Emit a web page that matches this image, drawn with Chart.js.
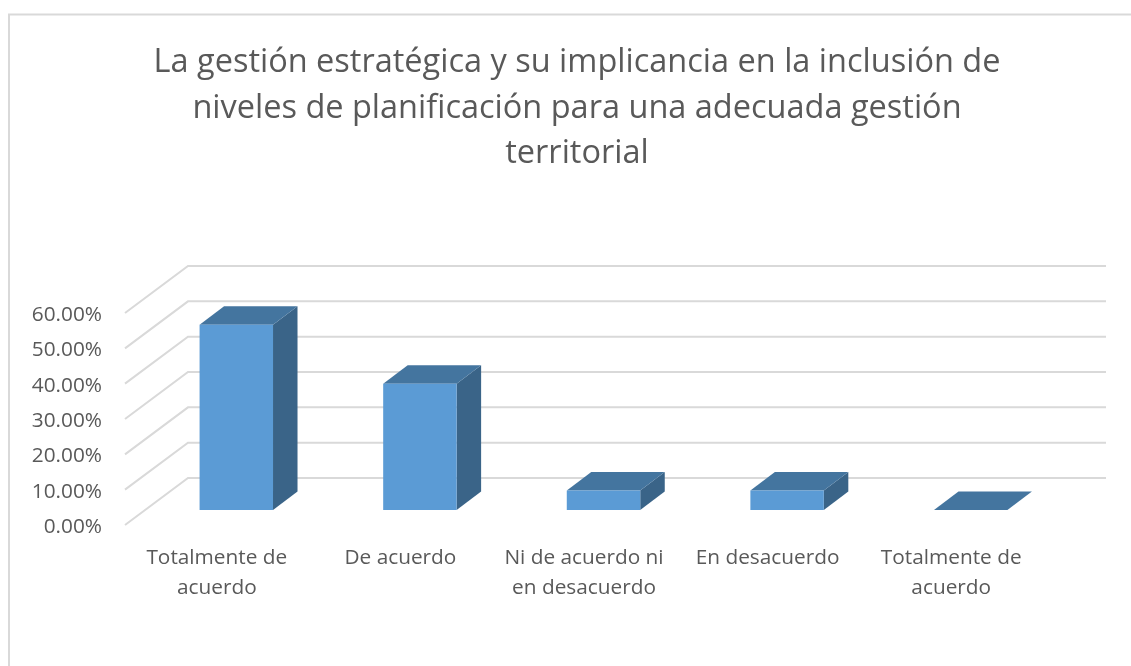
<!DOCTYPE html>
<html><head><meta charset="utf-8">
<style>html,body{margin:0;padding:0;background:#fff}#w{position:relative;width:1131px;height:666px}</style>
<script src="https://cdn.jsdelivr.net/npm/chart.js@4"></script>
</head><body><div id="w"><canvas id="c" width="1131" height="666"></canvas></div>
<script>
const titleLines = ["La gestión estratégica y su implicancia en la inclusión de","niveles de planificación para una adecuada gestión","territorial"];
const categories = [["Totalmente de","acuerdo"],"De acuerdo",["Ni de acuerdo ni","en desacuerdo"],"En desacuerdo",["Totalmente de","acuerdo"]];
const values = [0.524,0.357,0.055,0.055,0];
const FONT = '"Open Sans", sans-serif';
const GRID='#D9D9D9', FRONT='#5B9BD5', TOP='#44759F', SIDE='#3A6488', TEXT='#595959';
const FLOOR={dx:63,dy:-47}, BARPLANE={dx:19.5,dy:-15}, BARDEPTH={dx:24.5,dy:-18.5};
function poly(ctx,pts,fill){ctx.beginPath();pts.forEach((p,i)=>i?ctx.lineTo(p[0],p[1]):ctx.moveTo(p[0],p[1]));ctx.closePath();ctx.fillStyle=fill;ctx.fill();}
const frame3d={id:'frame3d',
 beforeDraw(ch){const c=ch.ctx;c.save();c.strokeStyle=GRID;c.lineWidth=2;c.beginPath();c.moveTo(9,666);c.lineTo(9,14.5);c.lineTo(1131,14.5);c.stroke();c.restore();},
 beforeDatasetsDraw(ch){
  const c=ch.ctx,y=ch.scales.y,a=ch.chartArea;
  c.save();c.strokeStyle=GRID;c.lineWidth=2;
  y.ticks.forEach(t=>{const py=y.getPixelForValue(t.value);c.beginPath();c.moveTo(a.left,py);c.lineTo(a.left+FLOOR.dx,py+FLOOR.dy);c.lineTo(a.right+FLOOR.dx,py+FLOOR.dy);c.stroke();});
  c.restore();
 },
 beforeDatasetDraw(ch,args){
  const c=ch.ctx;c.save();c.translate(BARPLANE.dx,BARPLANE.dy);
  args.meta.data.forEach(b=>{
   const p=b.getProps(['x','y','base','width'],true);
   const l=p.x-p.width/2,r=p.x+p.width/2,t=p.y,bo=p.base,dx=BARDEPTH.dx,dy=BARDEPTH.dy;
   if(bo-t>0.5) poly(c,[[r,t],[r+dx,t+dy],[r+dx,bo+dy],[r,bo]],SIDE);
   poly(c,[[l,t],[r,t],[r+dx,t+dy],[l+dx,t+dy]],TOP);
  });
 },
 afterDatasetDraw(ch){ch.ctx.restore();}
};
new Chart(document.getElementById('c'),{
 type:'bar',
 data:{labels:categories,datasets:[{data:values,backgroundColor:FRONT,borderWidth:0,barPercentage:0.4,categoryPercentage:1,yAxisID:'y'}]},
 plugins:[frame3d],
 options:{responsive:false,animation:false,
  layout:{padding:{left:23,top:40,right:0,bottom:0}},
  plugins:{legend:{display:false},tooltip:{enabled:false},
   title:{display:true,text:titleLines,color:TEXT,font:{family:FONT,size:32.5,weight:'normal',lineHeight:1.4},padding:{top:0,bottom:136.5}}},
  scales:{
   x:{grid:{display:false},border:{display:false},ticks:{color:TEXT,font:{family:FONT,size:20.8,lineHeight:1.44},padding:10,maxRotation:0,minRotation:0,autoSkip:false},afterFit(s){s.height=141;}},
   y:{min:0,max:0.6,grid:{display:false},border:{display:false},ticks:{stepSize:0.1,color:TEXT,font:{family:FONT,size:20.8},padding:15,labelOffset:2,callback:v=>(v*100).toFixed(2)+'%'},afterFit(s){s.width=102;}},
   yr:{position:'right',display:true,grid:{display:false},border:{display:false},ticks:{display:false},afterFit(s){s.width=88;}}
  }
 }
});
</script></body></html>
